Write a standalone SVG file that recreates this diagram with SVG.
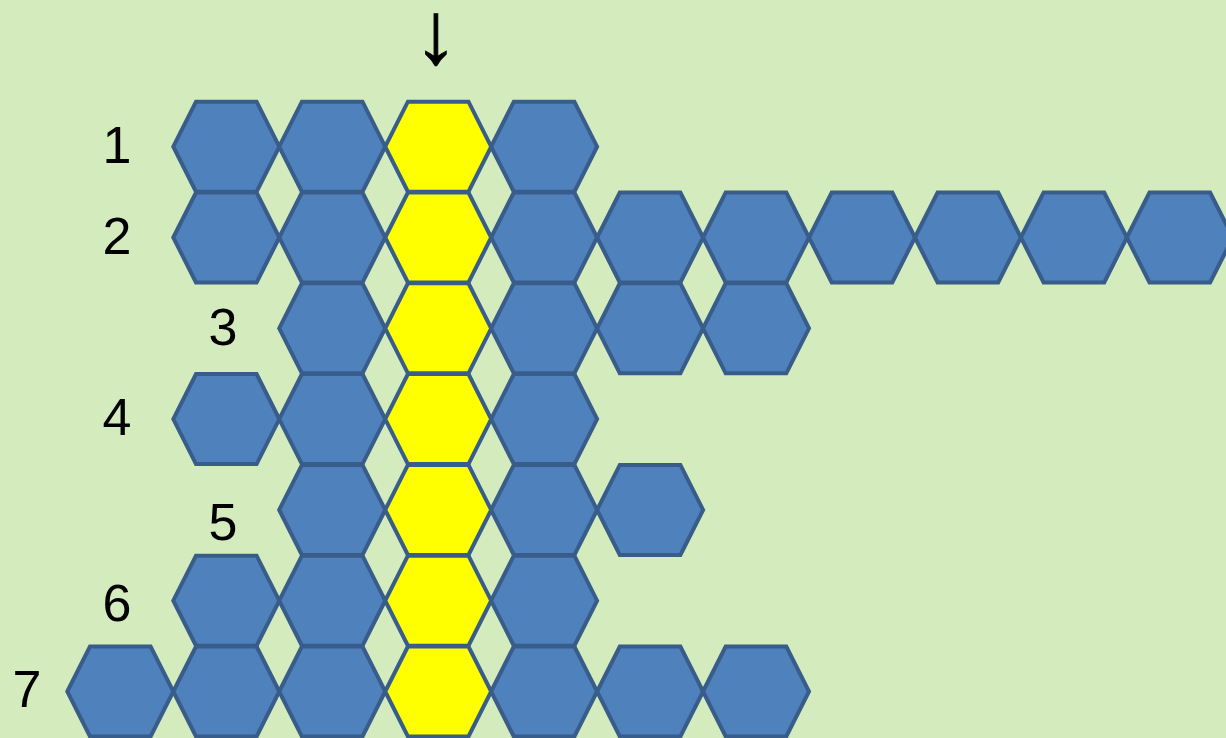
<svg xmlns="http://www.w3.org/2000/svg" xmlns:xlink="http://www.w3.org/1999/xlink" width="1226" height="738" viewBox="0 0 1226 738">
<style>
.hx{stroke:#385D8A;stroke-width:4;stroke-linejoin:miter}
.b{fill:#4F81BD}
.y{fill:#FFFF00}
.lbl{font-family:"Liberation Sans",Arial,sans-serif;font-size:52px;fill:#000;text-anchor:middle}
</style>
<defs>
<polygon id="hex" points="-53,0 -30.3,-45 30.3,-45 53,0 30.3,45 -30.3,45"/>
</defs>
<rect x="0" y="0" width="1226" height="738" fill="#D4EBBD"/>
<g id="labels">
<text class="lbl" x="117" y="163">1</text>
<text class="lbl" x="117" y="254">2</text>
<text class="lbl" x="223" y="345">3</text>
<text class="lbl" x="117" y="435">4</text>
<text class="lbl" x="223" y="540">5</text>
<text class="lbl" x="117" y="621">6</text>
<text class="lbl" x="27" y="707">7</text>
</g>
<g id="arrow"><text class="lbl" x="436" y="63" style="font-size:88px;stroke:#000;stroke-width:1">↓</text></g>
<g id="row1">
<g id="r1c1"><use xlink:href="#hex" class="hx b" x="226.3" y="146.7"/></g>
<g id="r1c2"><use xlink:href="#hex" class="hx b" x="332.2" y="146.7"/></g>
<g id="r1c3"><use xlink:href="#hex" class="hx y" x="438.2" y="146.7"/></g>
<g id="r1c4"><use xlink:href="#hex" class="hx b" x="544.1" y="146.7"/></g>
</g>
<g id="row2">
<g id="r2c1"><use xlink:href="#hex" class="hx b" x="226.3" y="237.5"/></g>
<g id="r2c2"><use xlink:href="#hex" class="hx b" x="332.2" y="237.5"/></g>
<g id="r2c3"><use xlink:href="#hex" class="hx y" x="438.2" y="237.5"/></g>
<g id="r2c4"><use xlink:href="#hex" class="hx b" x="544.1" y="237.5"/></g>
<g id="r2c5"><use xlink:href="#hex" class="hx b" x="650.1" y="237.5"/></g>
<g id="r2c6"><use xlink:href="#hex" class="hx b" x="756.0" y="237.5"/></g>
<g id="r2c7"><use xlink:href="#hex" class="hx b" x="862.0" y="237.5"/></g>
<g id="r2c8"><use xlink:href="#hex" class="hx b" x="967.9" y="237.5"/></g>
<g id="r2c9"><use xlink:href="#hex" class="hx b" x="1073.9" y="237.5"/></g>
<g id="r2c10"><use xlink:href="#hex" class="hx b" x="1179.8" y="237.5"/></g>
</g>
<g id="row3">
<g id="r3c2"><use xlink:href="#hex" class="hx b" x="332.2" y="328.3"/></g>
<g id="r3c3"><use xlink:href="#hex" class="hx y" x="438.2" y="328.3"/></g>
<g id="r3c4"><use xlink:href="#hex" class="hx b" x="544.1" y="328.3"/></g>
<g id="r3c5"><use xlink:href="#hex" class="hx b" x="650.1" y="328.3"/></g>
<g id="r3c6"><use xlink:href="#hex" class="hx b" x="756.0" y="328.3"/></g>
</g>
<g id="row4">
<g id="r4c1"><use xlink:href="#hex" class="hx b" x="226.3" y="419.1"/></g>
<g id="r4c2"><use xlink:href="#hex" class="hx b" x="332.2" y="419.1"/></g>
<g id="r4c3"><use xlink:href="#hex" class="hx y" x="438.2" y="419.1"/></g>
<g id="r4c4"><use xlink:href="#hex" class="hx b" x="544.1" y="419.1"/></g>
</g>
<g id="row5">
<g id="r5c2"><use xlink:href="#hex" class="hx b" x="332.2" y="509.9"/></g>
<g id="r5c3"><use xlink:href="#hex" class="hx y" x="438.2" y="509.9"/></g>
<g id="r5c4"><use xlink:href="#hex" class="hx b" x="544.1" y="509.9"/></g>
<g id="r5c5"><use xlink:href="#hex" class="hx b" x="650.1" y="509.9"/></g>
</g>
<g id="row6">
<g id="r6c1"><use xlink:href="#hex" class="hx b" x="226.3" y="600.7"/></g>
<g id="r6c2"><use xlink:href="#hex" class="hx b" x="332.2" y="600.7"/></g>
<g id="r6c3"><use xlink:href="#hex" class="hx y" x="438.2" y="600.7"/></g>
<g id="r6c4"><use xlink:href="#hex" class="hx b" x="544.1" y="600.7"/></g>
</g>
<g id="row7">
<g id="r7c0"><use xlink:href="#hex" class="hx b" x="120.3" y="691.5"/></g>
<g id="r7c1"><use xlink:href="#hex" class="hx b" x="226.3" y="691.5"/></g>
<g id="r7c2"><use xlink:href="#hex" class="hx b" x="332.2" y="691.5"/></g>
<g id="r7c3"><use xlink:href="#hex" class="hx y" x="438.2" y="691.5"/></g>
<g id="r7c4"><use xlink:href="#hex" class="hx b" x="544.1" y="691.5"/></g>
<g id="r7c5"><use xlink:href="#hex" class="hx b" x="650.1" y="691.5"/></g>
<g id="r7c6"><use xlink:href="#hex" class="hx b" x="756.0" y="691.5"/></g>
</g>
</svg>
